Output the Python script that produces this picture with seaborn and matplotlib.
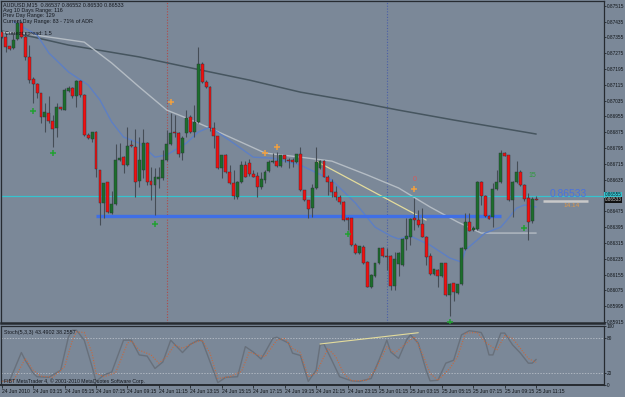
import matplotlib
matplotlib.use("Agg")
import matplotlib.pyplot as plt
import seaborn as sns

# AUDUSD M15, 24-25 Jun 2010, one value per bar
opens = [0.87382, 0.87357, 0.87312, 0.87301, 0.87347, 0.87428, 0.87357, 0.87256, 0.87144, 0.87119,
         0.87073, 0.86952, 0.86972, 0.86932, 0.86896, 0.87003, 0.86987, 0.87084, 0.87099, 0.87058,
         0.87134, 0.87063, 0.86861, 0.86841, 0.86876, 0.86684, 0.86517, 0.86623, 0.86466, 0.86512,
         0.86734, 0.86749, 0.86709, 0.86810, 0.86800, 0.86628, 0.86684, 0.86820, 0.86628, 0.86608,
         0.86638, 0.86643, 0.86734, 0.86815, 0.86876, 0.86871, 0.86770, 0.86871, 0.86952, 0.86876,
         0.86927, 0.87220, 0.87129, 0.87104, 0.86896, 0.86856, 0.86694, 0.86760, 0.86674, 0.86618,
         0.86547, 0.86623, 0.86709, 0.86719, 0.86664, 0.86653, 0.86598, 0.86633, 0.86679, 0.86724,
         0.86729, 0.86704, 0.86760, 0.86734, 0.86734, 0.86724, 0.86765, 0.86583, 0.86532, 0.86491,
         0.86593, 0.86694, 0.86729, 0.86648, 0.86623, 0.86573, 0.86547, 0.86522, 0.86441, 0.86441,
         0.86304, 0.86264, 0.86294, 0.86218, 0.86092, 0.86148, 0.86213, 0.86289, 0.86249, 0.86249,
         0.86097, 0.86208, 0.86203, 0.86335, 0.86345, 0.86441, 0.86431, 0.86410, 0.86345, 0.86249,
         0.86158, 0.86178, 0.86148, 0.86213, 0.86051, 0.86112, 0.86061, 0.86107, 0.86284, 0.86421,
         0.86380, 0.86385, 0.86623, 0.86552, 0.86451, 0.86446, 0.86588, 0.86623, 0.86770, 0.86760,
         0.86532, 0.86623, 0.86674, 0.86608, 0.86542, 0.86426, 0.86537]
highs = [0.87387, 0.87377, 0.87312, 0.87377, 0.87443, 0.87438, 0.87382, 0.87316, 0.87154, 0.87124,
         0.87073, 0.87023, 0.87058, 0.86962, 0.87023, 0.87003, 0.87099, 0.87109, 0.87104, 0.87139,
         0.87139, 0.87068, 0.86871, 0.86876, 0.86881, 0.86684, 0.86618, 0.86623, 0.86578, 0.86815,
         0.86820, 0.86754, 0.86901, 0.86836, 0.86891, 0.86851, 0.86891, 0.86826, 0.86699, 0.86694,
         0.86699, 0.86785, 0.86886, 0.86972, 0.86962, 0.86876, 0.86856, 0.86987, 0.86962, 0.87013,
         0.87307, 0.87230, 0.87139, 0.87109, 0.86927, 0.86856, 0.86760, 0.86765, 0.86709, 0.86684,
         0.86628, 0.86729, 0.86729, 0.86739, 0.86684, 0.86674, 0.86674, 0.86684, 0.86734, 0.86770,
         0.86775, 0.86760, 0.86760, 0.86744, 0.86744, 0.86765, 0.86800, 0.86583, 0.86532, 0.86613,
         0.86800, 0.86734, 0.86734, 0.86658, 0.86638, 0.86603, 0.86557, 0.86527, 0.86446, 0.86441,
         0.86314, 0.86299, 0.86304, 0.86223, 0.86158, 0.86213, 0.86289, 0.86294, 0.86289, 0.86254,
         0.86269, 0.86269, 0.86340, 0.86441, 0.86441, 0.86542, 0.86481, 0.86491, 0.86350, 0.86264,
         0.86183, 0.86183, 0.86213, 0.86213, 0.86112, 0.86112, 0.86107, 0.86294, 0.86466, 0.86466,
         0.86400, 0.86628, 0.86628, 0.86557, 0.86456, 0.86618, 0.86684, 0.86785, 0.86775, 0.86760,
         0.86628, 0.86729, 0.86684, 0.86613, 0.86567, 0.86547, 0.86552]
lows = [0.87352, 0.87281, 0.87291, 0.87296, 0.87342, 0.87354, 0.87240, 0.87124, 0.87023, 0.87048,
        0.86922, 0.86876, 0.86922, 0.86800, 0.86851, 0.86987, 0.86987, 0.87078, 0.87048, 0.87003,
        0.87053, 0.86856, 0.86841, 0.86826, 0.86648, 0.86405, 0.86441, 0.86466, 0.86461, 0.86507,
        0.86729, 0.86669, 0.86704, 0.86800, 0.86547, 0.86598, 0.86643, 0.86608, 0.86532, 0.86456,
        0.86593, 0.86633, 0.86729, 0.86810, 0.86851, 0.86749, 0.86734, 0.86851, 0.86871, 0.86851,
        0.86922, 0.87124, 0.87099, 0.86881, 0.86795, 0.86689, 0.86643, 0.86669, 0.86613, 0.86537,
        0.86537, 0.86618, 0.86648, 0.86653, 0.86648, 0.86547, 0.86588, 0.86618, 0.86674, 0.86719,
        0.86699, 0.86699, 0.86724, 0.86694, 0.86699, 0.86719, 0.86578, 0.86527, 0.86441, 0.86446,
        0.86588, 0.86689, 0.86648, 0.86557, 0.86547, 0.86532, 0.86512, 0.86426, 0.86380, 0.86299,
        0.86259, 0.86259, 0.86208, 0.86090, 0.86087, 0.86143, 0.86208, 0.86244, 0.86178, 0.86077,
        0.86077, 0.86148, 0.86198, 0.86279, 0.86304, 0.86380, 0.86395, 0.86343, 0.86203, 0.86153,
        0.86153, 0.86092, 0.86143, 0.86046, 0.85945, 0.86021, 0.86056, 0.86102, 0.86279, 0.86373,
        0.86375, 0.86380, 0.86507, 0.86446, 0.86434, 0.86395, 0.86583, 0.86618, 0.86754, 0.86527,
        0.86446, 0.86618, 0.86603, 0.86527, 0.86330, 0.86416, 0.86530]
closes = [0.87357, 0.87307, 0.87296, 0.87342, 0.87428, 0.87357, 0.87256, 0.87139, 0.87119, 0.87073,
          0.86952, 0.86977, 0.86932, 0.86891, 0.87003, 0.86992, 0.87089, 0.87099, 0.87058, 0.87134,
          0.87063, 0.86861, 0.86846, 0.86876, 0.86689, 0.86517, 0.86618, 0.86471, 0.86512, 0.86734,
          0.86744, 0.86709, 0.86805, 0.86803, 0.86623, 0.86734, 0.86820, 0.86623, 0.86608, 0.86648,
          0.86648, 0.86734, 0.86815, 0.86871, 0.86871, 0.86765, 0.86846, 0.86947, 0.86876, 0.86927,
          0.87220, 0.87129, 0.87104, 0.86896, 0.86856, 0.86694, 0.86760, 0.86675, 0.86618, 0.86552,
          0.86623, 0.86709, 0.86650, 0.86664, 0.86650, 0.86598, 0.86638, 0.86674, 0.86724, 0.86729,
          0.86704, 0.86760, 0.86739, 0.86729, 0.86724, 0.86765, 0.86583, 0.86532, 0.86486, 0.86593,
          0.86724, 0.86729, 0.86650, 0.86623, 0.86573, 0.86547, 0.86522, 0.86431, 0.86431, 0.86304,
          0.86264, 0.86299, 0.86213, 0.86093, 0.86153, 0.86213, 0.86289, 0.86249, 0.86244, 0.86097,
          0.86233, 0.86264, 0.86335, 0.86350, 0.86436, 0.86431, 0.86405, 0.86346, 0.86244, 0.86158,
          0.86183, 0.86148, 0.86213, 0.86051, 0.86107, 0.86067, 0.86107, 0.86289, 0.86421, 0.86377,
          0.86390, 0.86623, 0.86552, 0.86451, 0.86437, 0.86588, 0.86623, 0.86770, 0.86756, 0.86532,
          0.86623, 0.86674, 0.86608, 0.86537, 0.86421, 0.86537, 0.86533]

# moving averages, read at their turning points (bar, price)
ma_slow_bars = [0, 8, 17, 35, 53, 63, 76, 89, 101, 115, 136]
ma_slow = [0.87387, 0.87357, 0.87316, 0.87256, 0.87180, 0.87139, 0.87078, 0.87033, 0.86987, 0.86937, 0.86866]
ma_mid_bars = [0, 5, 21, 28, 35, 42, 47, 53, 67, 76, 84, 93, 101, 109, 116, 122, 136]
ma_mid = [0.87382, 0.87377, 0.87331, 0.87225, 0.87104, 0.86987, 0.86947, 0.86896, 0.86770, 0.86749,
          0.86729, 0.86659, 0.86593, 0.86497, 0.86421, 0.86365, 0.86365]
ma_fast_bars = [3, 9, 12, 17, 22, 25, 28, 31, 35, 39, 42, 47, 50, 53, 59, 64, 69, 76, 84, 90, 95,
                99, 101, 104, 109, 114, 117, 118, 121, 123, 127, 129, 131, 133, 136]
ma_fast = [0.87433, 0.87367, 0.87276, 0.87180, 0.87114, 0.87038, 0.86927, 0.86851, 0.86820, 0.86749,
           0.86760, 0.86820, 0.86876, 0.86901, 0.86820, 0.86749, 0.86744, 0.86709, 0.86633, 0.86517,
           0.86395, 0.86350, 0.86335, 0.86350, 0.86304, 0.86239, 0.86218, 0.86279, 0.86330, 0.86365,
           0.86395, 0.86441, 0.86491, 0.86507, 0.86497]

trend_bars = [80, 108]
trend_prices = [0.86729, 0.86431]
support_bars = [24, 127]
support_level = 0.86453
pivot_level = 0.86555

up_marks_bars = [8, 13, 39, 88, 114, 133]
up_marks = [0.86982, 0.86770, 0.86410, 0.86360, 0.85915, 0.86390]
top_marks_bars = [43, 67, 70, 105]
top_marks = [0.87028, 0.86771, 0.86802, 0.86586]

price_ticks = [0.85915, 0.85995, 0.86075, 0.86155, 0.86235, 0.86315, 0.86395, 0.86475, 0.86555,
               0.86635, 0.86715, 0.86795, 0.86875, 0.86955, 0.87035, 0.87115, 0.87195, 0.87275,
               0.87355, 0.87435, 0.87515]

time_bars = [0, 8, 16, 24, 32, 40, 48, 56, 64, 72, 80, 88, 96, 104, 112, 120, 128, 136]
time_labels = ["24 Jun 2010", "24 Jun 03:15", "24 Jun 05:15", "24 Jun 07:15", "24 Jun 09:15",
               "24 Jun 11:15", "24 Jun 13:15", "24 Jun 15:15", "24 Jun 17:15", "24 Jun 19:15",
               "24 Jun 21:15", "24 Jun 23:15", "25 Jun 01:15", "25 Jun 03:15", "25 Jun 05:15",
               "25 Jun 07:15", "25 Jun 09:15", "25 Jun 11:15"]

# Stochastic (5,3,3)
stoch_bars = [0, 2, 5, 6, 8, 9, 12, 15, 17, 18, 19, 21, 23, 24, 26, 28, 31, 33, 35, 37, 39, 41, 43,
              46, 48, 50, 51, 55, 57, 60, 62, 64, 66, 67, 69, 70, 73, 74, 76, 78, 80, 81, 82, 84,
              86, 89, 91, 94, 96, 98, 99, 101, 103, 104, 106, 108, 109, 111, 113, 115, 117, 119,
              122, 123, 124, 125, 127, 128, 130, 132, 134, 135, 136]
stoch_main = [7, 7, 55, 42, 20, 14, 13, 25, 82, 93, 93, 76, 31, 6, 17, 22, 76, 76, 51, 49, 28, 39, 76,
              55, 69, 76, 75, 4, 13, 14, 65, 56, 44, 55, 79, 81, 71, 54, 50, 6, 25, 68, 69, 42,
              14, 7, 6, 11, 42, 76, 56, 45, 76, 85, 71, 25, 7, 8, 37, 42, 85, 92,
              89, 76, 51, 51, 88, 88, 68, 54, 37, 37, 43.49]
signal_bars = [0, 3, 6, 8, 10, 13, 16, 18, 19, 21, 23, 24, 26, 29, 32, 33, 35, 38, 40, 42, 44, 46,
               49, 51, 53, 55, 58, 61, 63, 65, 67, 70, 72, 74, 76, 78, 80, 83, 85, 87, 89, 93, 95,
               98, 100, 103, 105, 107, 109, 111, 114, 116, 118, 121, 123, 126, 128, 130, 132, 134, 136]
stoch_signal = [6, 7, 45, 25, 15, 13, 31, 76, 90, 89, 54, 20, 14, 21, 71, 75, 59, 51, 37, 48, 68, 62,
                72, 76, 54, 11, 14, 23, 56, 51, 48, 76, 79, 62, 55, 14, 20, 62, 48, 20, 7, 8, 25,
                65, 54, 71, 82, 54, 20, 8, 28, 48, 88, 89, 73, 59, 84, 79, 62, 45, 38.26]
stoch_trend_bars = [81, 106]
stoch_trend = [69.5, 88.6]

BG = "#7b8898"
FRAME = "#262b31"
W, H = 625, 397

sns.set_theme(style="white", rc={"axes.facecolor": BG, "figure.facecolor": BG})
plt.rcParams["font.family"] = ["Liberation Sans", "DejaVu Sans"]

fig = plt.figure(figsize=(W / 100, H / 100), dpi=100)
ax = fig.add_axes([1 / W, 1 - 323 / H, 603 / W, 322 / H])
ax2 = fig.add_axes([1 / W, 1 - 385 / H, 603 / W, 59 / H])

bars = list(range(len(opens)))

# indicator lines under the candles
sns.lineplot(x=ma_slow_bars, y=ma_slow, ax=ax, color="#46555f", linewidth=1.1, zorder=1)
sns.lineplot(x=ma_mid_bars, y=ma_mid, ax=ax, color="#b4bcc4", linewidth=1.0, zorder=1)
sns.lineplot(x=ma_fast_bars, y=ma_fast, ax=ax, color="#5d7fc4", linewidth=1.0, zorder=1)
sns.lineplot(x=trend_bars, y=trend_prices, ax=ax, color="#e4dc9c", linewidth=0.9, zorder=1)
ax.plot(support_bars, [support_level, support_level], color="#3f6fe6", lw=2.4, zorder=1.5,
        solid_capstyle="butt")
ax.axhline(pivot_level, color="#36c3cf", lw=0.9, zorder=1.2)
ax.axvline(42, color="#b04a4a", lw=0.8, ls=(0, (1, 1.5)), zorder=0.8)
ax.axvline(98, color="#4a5ea8", lw=0.8, ls=(0, (1, 1.5)), zorder=0.8)

# candles
up_col, dn_col, wick_col = "#1c6e2c", "#f01010", "#454d56"
ax.vlines(bars, lows, highs, color=wick_col, lw=0.8, zorder=2)
body_low = [min(o, c) for o, c in zip(opens, closes)]
body_h = [max(abs(c - o), 0.00003) for o, c in zip(opens, closes)]
colors = [up_col if c >= o else dn_col for o, c in zip(opens, closes)]
ax.bar(bars, body_h, bottom=body_low, width=0.74, color=colors, edgecolor="#2a2f35",
       linewidth=0.3, zorder=3)

# signal arrows
ax.scatter(up_marks_bars, up_marks, marker="+", s=14, color="#22a032", linewidths=1.1, zorder=4)
ax.scatter(top_marks_bars, top_marks, marker="+", s=14, color="#f0a040", linewidths=1.1, zorder=4)
ax.text(105, 0.86638, "0", color="#d85a5a", fontsize=5, ha="center", va="center", zorder=4)
ax.text(135, 0.86655, "15", color="#2e9a3a", fontsize=5, ha="center", va="center", zorder=4)

# price label at the right
ax.text(139.3, 0.86562, "0.86533", color="#4a72dc", fontsize=7.4, ha="left", va="center", zorder=4)
ax.text(143, 0.86502, "14.14", color="#e39a4a", fontsize=4.6, ha="left", va="center", zorder=4)
ax.plot([137.7, 149.2], [0.86529, 0.86529], color="#c9c9c9", lw=1.8, zorder=4, solid_capstyle="butt")

ax.set_xlim(-0.18, 153.26)
ax.set_ylim(0.85910, 0.87539)
ax.yaxis.tick_right()
ax.set_yticks(price_ticks)
# the 0.86555 level is shown in its own coloured box below
ax.set_yticklabels(["" if p == pivot_level else f"{p:.5f}" for p in price_ticks])
ax.tick_params(axis="y", labelsize=3.4, length=1.5, width=0.5, pad=0.6, colors="#101418", right=True)
ax.set_xticks([])
for s in ax.spines.values():
    s.set_color(FRAME)
    s.set_linewidth(0.9)
ax.spines["bottom"].set_linewidth(1.8)

# right-axis boxes
fig.text(605 / W, 1 - 194.6 / H, "0.86555", fontsize=3.3, color="#0d1a20", va="center", ha="left",
         bbox=dict(boxstyle="square,pad=0.12", fc="#36c3cf", ec="none"))
fig.text(605 / W, 1 - 199.8 / H, "0.86533", fontsize=3.3, color="#d0d0d0", va="center", ha="left",
         bbox=dict(boxstyle="square,pad=0.08", fc="#111111", ec="none"))

# info block
info = ["AUDUSD,M15  0.86537 0.86552 0.86530 0.86533", "Avg 10 Days Range: 116", "Prev Day Range: 129",
        "Current Day Range: 83 - 71% of ADR"]
for line, py in zip(info, [4.8, 10.4, 15.8, 22.0]):
    fig.text(3 / W, 1 - py / H, line, fontsize=3.9, color="#14181f", va="center", ha="left")
fig.text(5 / W, 1 - 33.4 / H, "Current spread: 1.5", fontsize=3.9, color="#14181f", va="center", ha="left")

# stochastic pane
ax2.axhline(80, color="#c3c9d1", lw=0.5, ls=(0, (2, 2)))
ax2.axhline(20, color="#c3c9d1", lw=0.5, ls=(0, (2, 2)))
sns.lineplot(x=stoch_bars, y=stoch_main, ax=ax2, color="#68707b", linewidth=1.0)
sns.lineplot(x=signal_bars, y=stoch_signal, ax=ax2, color="#c8683c", linewidth=0.8, linestyle=(0, (1, 1.4)))
sns.lineplot(x=stoch_trend_bars, y=stoch_trend, ax=ax2, color="#e4dc9c", linewidth=0.8)
ax2.set_xlim(-0.18, 153.26)
ax2.set_ylim(0, 100)
ax2.yaxis.tick_right()
ax2.set_yticks([0, 20, 80, 100])
ax2.set_yticklabels(["0", "20", "80", "100"])
ax2.tick_params(axis="y", labelsize=3.4, length=1.5, width=0.5, pad=0.6, colors="#101418", right=True)
ax2.set_xticks(time_bars)
ax2.set_xticklabels(time_labels, ha="left")
ax2.tick_params(axis="x", labelsize=3.6, length=2, width=0.5, pad=1, colors="#101418", bottom=True)
for s in ax2.spines.values():
    s.set_color(FRAME)
    s.set_linewidth(0.9)
ax2.spines["bottom"].set_linewidth(1.4)
ax2.set_xlabel("")
ax2.set_ylabel("")
ax.set_xlabel("")
ax.set_ylabel("")
ax2.text(0.005, 0.93, "Stoch(5,3,3) 43.4902 38.2557", transform=ax2.transAxes, fontsize=3.9,
         color="#14181f", va="top", ha="left")
ax2.text(0.005, 0.02, "FIBT MetaTrader 4, \u00a9 2001-2010 MetaQuotes Software Corp.",
         transform=ax2.transAxes, fontsize=3.7, color="#14181f", va="bottom", ha="left")

fig.savefig("out.png", dpi=100, facecolor=BG)
